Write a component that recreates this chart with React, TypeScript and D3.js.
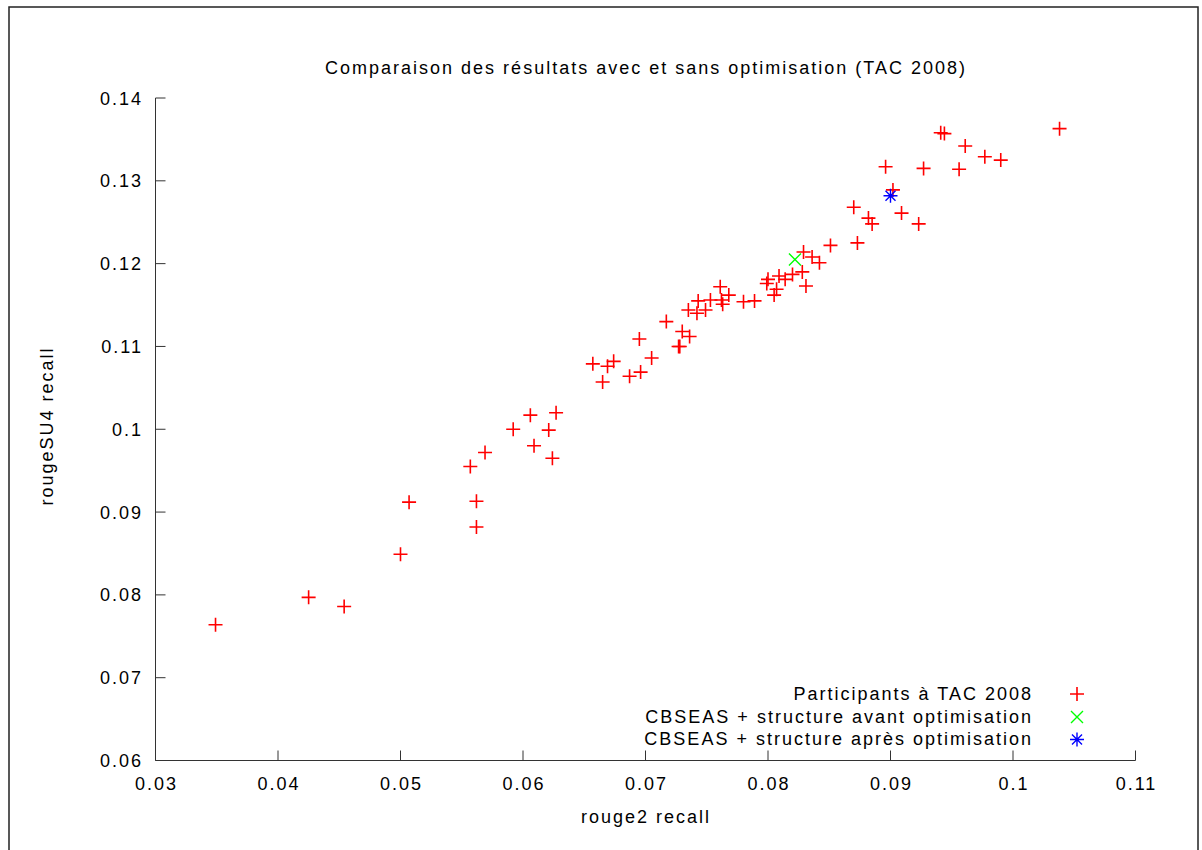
import React from "react";
import * as d3 from "d3";

const TITLE = "Comparaison des résultats avec et sans optimisation (TAC 2008)";
const X_LABEL = "rouge2 recall";
const Y_LABEL = "rougeSU4 recall";

const X_TICKS = [0.03, 0.04, 0.05, 0.06, 0.07, 0.08, 0.09, 0.1, 0.11];
const Y_TICKS = [0.06, 0.07, 0.08, 0.09, 0.1, 0.11, 0.12, 0.13, 0.14];

// participants TAC 2008 : [rouge2, rougeSU4]
const participants: [number, number][] = [
  [0.0349, 0.0764], [0.0425, 0.0797], [0.0454, 0.0786], [0.05, 0.0849],
  [0.0507, 0.0912], [0.0557, 0.0955], [0.0562, 0.0913], [0.0562, 0.0882],
  [0.0569, 0.0972], [0.0592, 0.1], [0.0606, 0.1017], [0.0609, 0.098],
  [0.0621, 0.0999], [0.0627, 0.102], [0.0624, 0.0965], [0.0657, 0.1079],
  [0.0665, 0.1057], [0.0669, 0.1076], [0.0674, 0.1082], [0.0687, 0.1064],
  [0.0696, 0.1069], [0.0695, 0.1109], [0.0705, 0.1086], [0.0717, 0.113],
  [0.0727, 0.11], [0.0728, 0.11], [0.073, 0.1118], [0.0736, 0.1112],
  [0.0735, 0.1144], [0.0742, 0.114], [0.0749, 0.1144], [0.0743, 0.1155],
  [0.0753, 0.1156], [0.0762, 0.1156], [0.0763, 0.1151], [0.0768, 0.1162],
  [0.0761, 0.1172], [0.078, 0.1154], [0.0789, 0.1155], [0.08, 0.1181],
  [0.0799, 0.1176], [0.0805, 0.1162], [0.0807, 0.1169], [0.0809, 0.1185],
  [0.0814, 0.1181], [0.082, 0.1187], [0.0828, 0.119], [0.0831, 0.1173],
  [0.0829, 0.1214], [0.0836, 0.1208], [0.0842, 0.1201], [0.0851, 0.1222],
  [0.0873, 0.1225], [0.087, 0.1268], [0.0882, 0.1255], [0.0885, 0.1248],
  [0.0896, 0.1317], [0.0902, 0.1289], [0.0909, 0.1261], [0.0923, 0.1248],
  [0.0927, 0.1315], [0.0941, 0.1358], [0.0944, 0.1357], [0.0956, 0.1314],
  [0.0961, 0.1342], [0.0977, 0.1329], [0.099, 0.1325], [0.1038, 0.1363],
];
const avantOptim: [number, number][] = [[0.0822, 0.1205]];
const apresOptim: [number, number][] = [[0.09, 0.1282]];

const LEGEND = [
  "Participants à TAC 2008",
  "CBSEAS + structure avant optimisation",
  "CBSEAS + structure après optimisation",
];

const FONT = "'Liberation Sans', Arial, Helvetica, sans-serif";
const AXIS = "#333";
const LS = 2; // le texte gnuplot est plus espacé

const Plus = ({ x, y, c }: { x: number; y: number; c: string }) => (
  <path d={`M${x - 7},${y}H${x + 7}M${x},${y - 7}V${y + 7}`} stroke={c} strokeWidth={1.6} fill="none" />
);
const Cross = ({ x, y, c }: { x: number; y: number; c: string }) => (
  <path d={`M${x - 6},${y - 6}L${x + 6},${y + 6}M${x - 6},${y + 6}L${x + 6},${y - 6}`} stroke={c} strokeWidth={1.4} fill="none" />
);
const Star = ({ x, y, c }: { x: number; y: number; c: string }) => (
  <path
    d={`M${x - 7},${y}H${x + 7}M${x},${y - 7}V${y + 7}M${x - 5},${y - 5}L${x + 5},${y + 5}M${x - 5},${y + 5}L${x + 5},${y - 5}`}
    stroke={c} strokeWidth={1.4} fill="none"
  />
);

export default function App() {
  const x = d3.scaleLinear().domain([0.03, 0.11]).range([155.5, 1135.5]);
  const y = d3.scaleLinear().domain([0.06, 0.14]).range([760.5, 98]);
  const fmt = (v: number) => String(+v.toFixed(2));

  return (
    <svg width={1202} height={850} style={{ position: "absolute", left: 0, top: 0 }} fontFamily={FONT} letterSpacing={LS}>
      <rect x={0} y={0} width={1202} height={850} fill="#fff" />
      <rect x={9} y={7} width={1189} height={860} fill="none" stroke="#222" strokeWidth={1.5} />

      <text x={646} y={74} textAnchor="middle" fontSize={18}>{TITLE}</text>

      {/* axes gauche et bas, graduations vers l'intérieur */}
      <line x1={x(0.03)} x2={x(0.03)} y1={y(0.14)} y2={y(0.06)} stroke={AXIS} />
      <line x1={x(0.03)} x2={x(0.11)} y1={y(0.06)} y2={y(0.06)} stroke={AXIS} />
      {Y_TICKS.map((t) => (
        <g key={"y" + t}>
          <line x1={x(0.03)} x2={x(0.03) + 10} y1={y(t)} y2={y(t)} stroke={AXIS} />
          <text x={143} y={y(t) + 6.5} textAnchor="end" fontSize={18}>{fmt(t)}</text>
        </g>
      ))}
      {X_TICKS.map((t) => (
        <g key={"x" + t}>
          <line x1={x(t)} x2={x(t)} y1={y(0.06)} y2={y(0.06) - 10} stroke={AXIS} />
          <text x={x(t) + 1} y={790} textAnchor="middle" fontSize={18}>{fmt(t)}</text>
        </g>
      ))}

      <text x={646} y={823} textAnchor="middle" fontSize={18}>{X_LABEL}</text>
      <text transform="translate(53,426) rotate(-90)" textAnchor="middle" fontSize={18}>{Y_LABEL}</text>

      {participants.map(([a, b], i) => (
        <Plus key={"p" + i} x={x(a)} y={y(b)} c="#ff0000" />
      ))}
      {avantOptim.map(([a, b], i) => (
        <Cross key={"g" + i} x={x(a)} y={y(b)} c="#00ff00" />
      ))}
      {apresOptim.map(([a, b], i) => (
        <Star key={"b" + i} x={x(a)} y={y(b)} c="#0000ff" />
      ))}

      {LEGEND.map((s, i) => (
        <text key={s} x={1033} y={700 + i * 22.5} textAnchor="end" fontSize={18}>{s}</text>
      ))}
      <Plus x={1077} y={694} c="#ff0000" />
      <Cross x={1077} y={717} c="#00ff00" />
      <Star x={1077} y={739.5} c="#0000ff" />
    </svg>
  );
}
